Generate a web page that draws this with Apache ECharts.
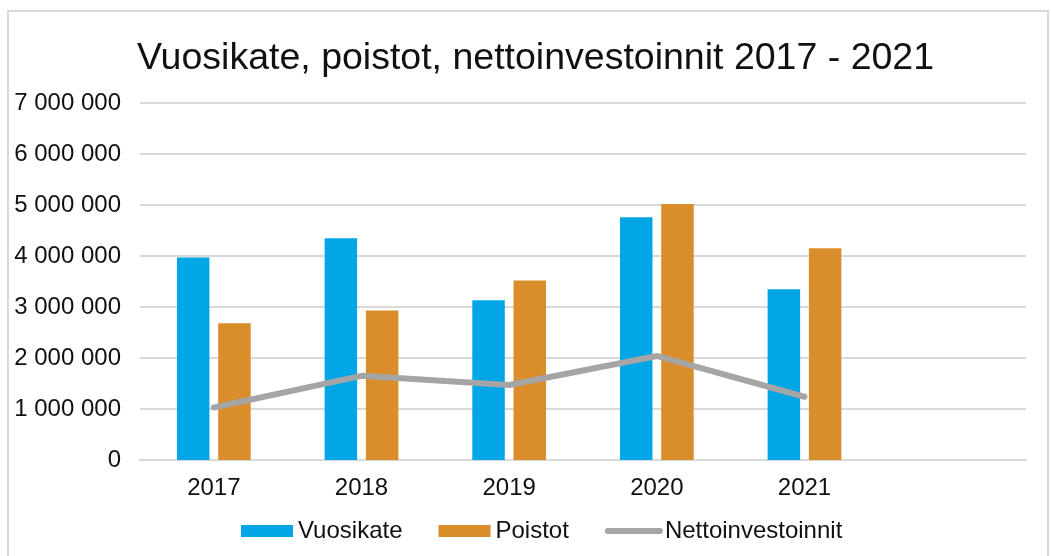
<!DOCTYPE html>
<html>
<head>
<meta charset="utf-8">
<script src="https://cdn.jsdelivr.net/npm/echarts@6/dist/echarts.min.js"></script>
<style>
  html, body { margin: 0; padding: 0; background: #fff; }
  #chart-container { width: 1051px; height: 556px; }
</style>
</head>
<body>
<div id="chart-container"></div>
<script>
// Vuodet (viimeinen kategoria tyhjä kuten alkuperäisessä)
const years = ['2017', '2018', '2019', '2020', '2021', ''];
const vuosikate = [3970000, 4350000, 3130000, 4760000, 3350000];
const poistot = [2680000, 2930000, 3520000, 5020000, 4150000];
const nettoinvestoinnit = [1030000, 1650000, 1470000, 2040000, 1240000];

const font = "'Liberation Sans', Arial, sans-serif";

// Muotoilu: tuhaterotin välilyönnillä
const fmt = v => String(v).replace(/\B(?=(\d{3})+(?!\d))/g, ' ');

const myChart = echarts.init(document.getElementById('chart-container'));
const option = {
	animation: false,
	textStyle: { fontFamily: font },
	graphic: [{
		type: 'rect',
		shape: { x: 8, y: 11, width: 1040, height: 600 },
		style: { fill: 'none', stroke: '#d9d9d9', lineWidth: 2 },
		silent: true
	}],
	title: {
		text: 'Vuosikate, poistot, nettoinvestoinnit 2017 - 2021',
		left: 132,
		top: 35,
		textStyle: { fontFamily: font, fontSize: 37.5, fontWeight: 'normal', color: '#111' }
	},
	legend: {
		left: 236,
		top: 514,
		itemWidth: 52,
		itemHeight: 12,
		itemGap: 36,
		textStyle: { fontFamily: font, fontSize: 24, color: '#111' },
		data: [
			{ name: 'Vuosikate', icon: 'rect' },
			{ name: 'Poistot', icon: 'rect' },
			{
				name: 'Nettoinvestoinnit',
				itemStyle: { opacity: 0 },
				lineStyle: { width: 6, cap: 'round', color: '#a5a5a5' }
			}
		]
	},
	grid: { left: 140, right: 25, top: 103, bottom: 96, containLabel: false },
	xAxis: {
		type: 'category',
		data: years,
		axisLine: { lineStyle: { color: '#d9d9d9', width: 2 } },
		axisTick: { show: false },
		axisLabel: { fontFamily: font, fontSize: 24, color: '#111', margin: 16 }
	},
	yAxis: {
		type: 'value',
		min: 0,
		max: 7000000,
		interval: 1000000,
		axisLine: { show: false },
		axisTick: { show: false },
		splitLine: { lineStyle: { color: '#d9d9d9', width: 2 } },
		axisLabel: { fontFamily: font, fontSize: 24, color: '#111', margin: 19, formatter: fmt }
	},
	series: [
		{
			name: 'Vuosikate',
			type: 'bar',
			data: vuosikate,
			barWidth: '22%',
			barGap: '27%',
			itemStyle: { color: '#00a6e6' }
		},
		{
			name: 'Poistot',
			type: 'bar',
			data: poistot,
			barWidth: '22%',
			itemStyle: { color: '#d98e2b' }
		},
		{
			name: 'Nettoinvestoinnit',
			type: 'line',
			data: nettoinvestoinnit,
			symbol: 'none',
			lineStyle: { color: '#a5a5a5', width: 6, cap: 'round', join: 'round' },
			itemStyle: { color: '#a5a5a5' }
		}
	]
};

myChart.setOption(option);
</script>
</body>
</html>
